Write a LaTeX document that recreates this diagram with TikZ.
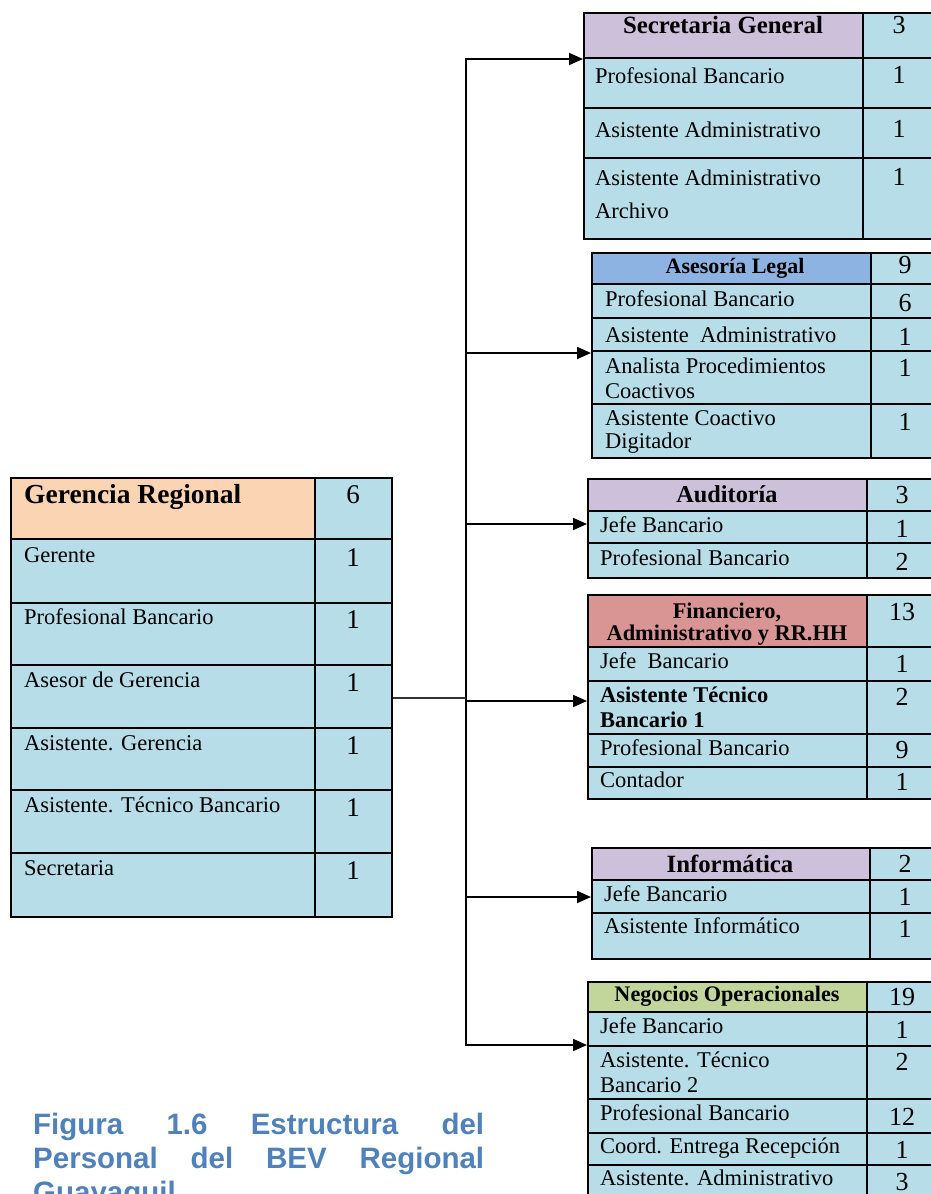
\documentclass[tikz,border=0pt]{standalone}
\usepackage{fontspec}
\setmainfont{Liberation Serif}
\newfontfamily\capfont{Liberation Sans}
\usetikzlibrary{arrows.meta}
\definecolor{bodyblue}{RGB}{183,221,232}
\definecolor{hdpurple}{RGB}{204,192,218}
\definecolor{hdblue}{RGB}{141,179,226}
\definecolor{hdred}{RGB}{217,149,148}
\definecolor{hdgreen}{RGB}{194,214,155}
\definecolor{hdorange}{RGB}{251,212,180}
\definecolor{capblue}{RGB}{79,129,189}
\tikzset{
  innerline/.style={line width=1.6pt, black},
  outerbox/.style={draw, line width=2.4pt, inner sep=0pt, anchor=north west},
  lab/.style={anchor=base west, inner sep=0pt, font=\fontsize{22.5}{25}\selectfont},
  blab/.style={anchor=base west, inner sep=0pt, font=\bfseries\fontsize{22.5}{25}\selectfont},
  num/.style={anchor=base, inner sep=0pt, font=\fontsize{26}{28}\selectfont},
  hd/.style={anchor=base, inner sep=0pt, font=\bfseries\fontsize{#1}{#1}\selectfont},
  conn/.style={line width=1.8pt, black},
  arr/.style={conn, -{Triangle[length=14pt,width=12pt]}},
  captext/.style={anchor=base west, inner sep=0pt, text=capblue, font=\capfont\bfseries\fontsize{29.5}{30}\selectfont}
}
% #1 name, #2 left, #3 top, #4 divider, #5 right, #6 bottom, #7 header bottom, #8 header colour
\newcommand\orgtab[8]{%
  \fill[bodyblue] (#2,#3) rectangle (#5,#6);
  \fill[#8] (#2,#3) rectangle (#4,#7);
  \draw[innerline] (#4,#3) -- (#4,#6);
  \draw[innerline] (#2,#7) -- (#5,#7);
  \node[outerbox, minimum width={(#5-#2)*1pt}, minimum height={(#6-#3)*1pt}] (#1) at (#2,#3) {};
}
\newcommand\rowline[3]{\draw[innerline] (#1,#3) -- (#2,#3);}
\begin{document}
\begin{tikzpicture}[x=1pt, y=-1pt]
\useasboundingbox (0,0) rectangle (931,1194);
\fill[white] (0,0) rectangle (931,1194);
\clip (0,0) rectangle (931,1194);

% Gerencia Regional
\orgtab{ger}{10}{477}{315}{391}{916}{539}{hdorange}
\foreach \y in {603,665,728,790,853} {\draw[innerline] (10,\y) -- (391,\y);}
\node[anchor=base west, inner sep=0pt, font=\bfseries\fontsize{27.5}{28}\selectfont] (gert) at (24,503) {Gerencia Regional};
\node[num, font=\fontsize{27}{28}\selectfont] (gern) at (353,503) {6};
\node[lab] (g1) at (24,562) {Gerente};
\node[lab] (g2) at (24,624) {Profesional Bancario};
\node[lab] (g3) at (24,687) {Asesor de Gerencia};
\node[lab] (g4) at (24,750) {Asistente. Gerencia};
\node[lab] (g5) at (24,812) {Asistente. Técnico Bancario};
\node[lab] (g6) at (24,875) {Secretaria};
\foreach \y/\n in {566/a,628/b,691/c,754/d,816/e,879/f} {\node[num, font=\fontsize{27}{28}\selectfont] (gn\n) at (353,\y) {1};}

% Secretaria General
\orgtab{sg}{583}{12}{863}{945}{238}{58}{hdpurple}
\rowline{583}{945}{108}\rowline{583}{945}{158}
\node[hd=24.8] (sgt) at (723,33) {Secretaria General};
\node[num] (sgn) at (899,33) {3};
\node[lab] (sg1) at (595,83) {Profesional Bancario};
\node[num] (sgn1) at (899,83) {1};
\node[lab] (sg2) at (595,137) {Asistente Administrativo};
\node[num] (sgn2) at (899,137) {1};
\node[lab] (sg3) at (595,185) {Asistente Administrativo};
\node[lab] (sg3b) at (595,218) {Archivo};
\node[num] (sgn3) at (899,185) {1};

% Asesoria Legal
\orgtab{al}{591}{252}{871}{945}{457}{284}{hdblue}
\rowline{591}{945}{318}\rowline{591}{945}{351}\rowline{591}{945}{404}
\node[hd=22] (alt) at (735,273) {Asesoría Legal};
\node[num] (aln) at (905,273) {9};
\node[lab] (al1) at (605,306) {Profesional Bancario};
\node[num] (aln1) at (905,311) {6};
\node[lab] (al2) at (605,342) {Asistente\ \ Administrativo};
\node[num] (aln2) at (905,345) {1};
\node[lab] (al3) at (605,373) {Analista Procedimientos};
\node[lab] (al3b) at (605,398) {Coactivos};
\node[num] (aln3) at (905,376) {1};
\node[lab] (al4) at (605,425) {Asistente Coactivo};
\node[lab] (al4b) at (605,448) {Digitador};
\node[num] (aln4) at (905,430) {1};

% Auditoria
\orgtab{au}{587}{478}{867}{945}{577}{511}{hdpurple}
\rowline{587}{945}{543}
\node[hd=24.3] (aut) at (727,502) {Auditoría};
\node[num] (aun) at (902,503) {3};
\node[lab] (au1) at (600,532) {Jefe Bancario};
\node[num] (aun1) at (902,537) {1};
\node[lab] (au2) at (600,565) {Profesional Bancario};
\node[num] (aun2) at (902,570) {2};

% Financiero
\orgtab{fi}{587}{594}{867}{945}{798}{647}{hdred}
\rowline{587}{945}{681}\rowline{587}{945}{734}\rowline{587}{945}{767}
\node[hd=22.4] (fit) at (727,618) {Financiero,};
\node[hd=22.4] (fitb) at (727,640) {Administrativo y RR.HH};
\node[num] (fin) at (902,620) {13};
\node[lab] (fi1) at (600,668) {Jefe\ \ Bancario};
\node[num] (fin1) at (902,672) {1};
\node[blab] (fi2) at (600,702) {Asistente Técnico};
\node[blab] (fi2b) at (600,727) {Bancario 1};
\node[num] (fin2) at (902,705) {2};
\node[lab] (fi3) at (600,755) {Profesional Bancario};
\node[num] (fin3) at (902,758) {9};
\node[lab] (fi4) at (600,787) {Contador};
\node[num] (fin4) at (902,790) {1};

% Informatica
\orgtab{inf}{591}{847}{870}{945}{958}{880}{hdpurple}
\rowline{591}{945}{913}
\node[hd=24.8] (inft) at (730,872) {Informática};
\node[num] (infn) at (905,872) {2};
\node[lab] (inf1) at (604,901) {Jefe Bancario};
\node[num] (infn1) at (905,905) {1};
\node[lab] (inf2) at (604,933) {Asistente Informático};
\node[num] (infn2) at (905,937) {1};

% Negocios Operacionales
\orgtab{neg}{587}{981}{867}{945}{1215}{1012}{hdgreen}
\rowline{587}{945}{1046}\rowline{587}{945}{1099}\rowline{587}{945}{1133}\rowline{587}{945}{1165}
\node[hd=22.2] (negt) at (727,1001) {Negocios Operacionales};
\node[num] (negn) at (902,1005) {19};
\node[lab] (neg1) at (600,1033) {Jefe Bancario};
\node[num] (negn1) at (902,1038) {1};
\node[lab] (neg2) at (600,1067) {Asistente. Técnico};
\node[lab] (neg2b) at (600,1092) {Bancario 2};
\node[num] (negn2) at (902,1070) {2};
\node[lab] (neg3) at (600,1120) {Profesional Bancario};
\node[num] (negn3) at (902,1125) {12};
\node[lab] (neg4) at (600,1153) {Coord. Entrega Recepción};
\node[num] (negn4) at (902,1158) {1};
\node[lab] (neg5) at (600,1185) {Asistente. Administrativo};
\node[num] (negn5) at (902,1190) {3};

% connectors
\coordinate (j1) at (466,59);
\coordinate (j2) at (466,353);
\coordinate (j3) at (466,524);
\coordinate (j4) at (466,701);
\coordinate (j5) at (466,897);
\coordinate (j6) at (466,1045);
\coordinate (jg) at (466,698);
\draw[conn, line cap=rect] (j1) -- (j6);
\draw[line width=1.5pt, black!80] (jg -| ger.east) -- (jg);
\draw[arr] (j1) -- (j1 -| sg.west);
\draw[arr] (j2) -- (j2 -| al.west);
\draw[arr] (j3) -- (j3 -| au.west);
\draw[arr] (j4) -- (j4 -| fi.west);
\draw[arr] (j5) -- (j5 -| inf.west);
\draw[arr] (j6) -- (j6 -| neg.west);

% caption
\node[captext] (cap1) at (33,1134) {\hbox to 451pt{Figura\hfill 1.6\hfill Estructura\hfill del}};
\node[captext] (cap2) at (33,1168) {\hbox to 451pt{Personal\hfill del\hfill BEV\hfill Regional}};
\node[captext] (cap3) at (33,1202) {Guayaquil};
\end{tikzpicture}
\end{document}
